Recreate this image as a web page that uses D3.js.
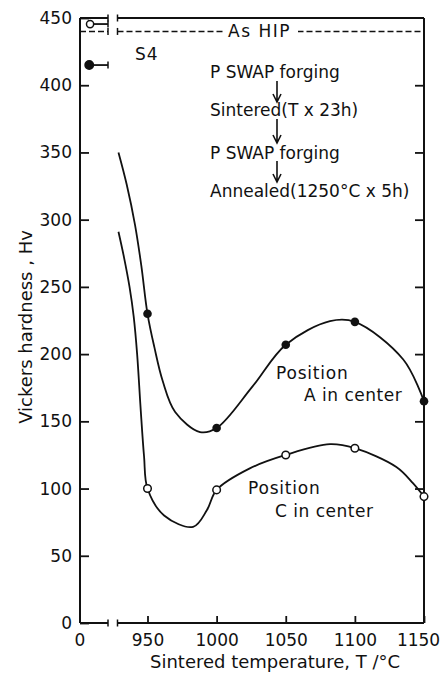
<!DOCTYPE html>
<html>
<head>
<meta charset="utf-8">
<script src="https://cdn.jsdelivr.net/npm/d3@7"></script>
<style>
  html, body { margin: 0; padding: 0; background: #fff; }
  svg { display: block; }
  text { font-family: "DejaVu Sans", sans-serif; fill: #111; }
</style>
</head>
<body>
<div id="chart"></div>
<script>
// Temperatures and hardness values
const tempTicks = [950, 1000, 1050, 1100, 1150];
const hvTicks = [0, 50, 100, 150, 200, 250, 300, 350, 400, 450];
const temps = [950, 1000, 1050, 1100, 1150];
const hvA = [230, 145, 207, 224, 165];   // Position A in center (filled)
const hvC = [100, 99, 125, 130, 94];     // Position C in center (open)

// Hand drawn guide curves through the points
const curveATemp = [929, 935, 941, 945.5, 950, 955, 961, 970, 988, 1000, 1026, 1050, 1082, 1100, 1135, 1150];
const curveAHv = [350, 326, 296, 266, 230, 205, 180, 157, 142, 145, 176, 207, 224.5, 224, 196, 165];
const curveCTemp = [929, 933, 937, 940, 942.5, 945, 947.5, 950, 962, 983, 993, 1000, 1024, 1050, 1082, 1100, 1130, 1142, 1150];
const curveCHv = [291, 272, 250, 228, 200, 160, 124, 100, 80, 71.5, 84, 99, 115, 125, 133, 130, 116, 104, 94];

// S4 reference points on the short left segment (as HIP)
const hipLevel = 440;
const s4Open = 445.5;
const s4Filled = 415;

const width = 442, height = 673;
const svg = d3.select('#chart').append('svg')
  .attr('width', width)
  .attr('height', height);

const y = d3.scaleLinear().domain([0, 450]).range([623, 18]);
const x = d3.scaleLinear().domain([950, 1150]).range([147.5, 424]);
// left stub of the broken axis (0 ... break)
const xL = d3.scaleLinear().domain([0, 1]).range([80, 108]);
const breakRight = 117.5;

const ink = '#111';

// ---- axes ----
const gx = svg.append('g')
  .attr('transform', `translate(0,${y(0)})`)
  .call(d3.axisBottom(x).tickValues(tempTicks).tickSize(-7).tickPadding(11).tickFormat(d3.format('d')));
const gy = svg.append('g')
  .attr('transform', `translate(${xL(0)},0)`)
  .call(d3.axisLeft(y).tickValues(hvTicks).tickSize(-9).tickPadding(8));
const gr = svg.append('g')
  .attr('transform', `translate(${x(1150)},0)`)
  .call(d3.axisRight(y).tickValues(hvTicks.slice(1, -1)).tickSize(-9).tickFormat(''));

[gx, gy, gr].forEach(g => {
  g.select('.domain').remove();
  g.selectAll('line').attr('stroke', ink).attr('stroke-width', 1.8);
  g.selectAll('text').style('font-size', '17px').style('font-family', '"DejaVu Sans", sans-serif').attr('fill', ink);
});
// keep the last label inside the picture
gx.selectAll('.tick').filter(d => d === 1150).select('text').attr('dx', -6);

// "0" under the left stub
svg.append('text')
  .attr('x', xL(0)).attr('y', 646)
  .attr('text-anchor', 'middle')
  .style('font-size', '17px')
  .text('0');

// ---- frame with axis break ----
const frame = svg.append('g')
  .attr('stroke', ink)
  .attr('stroke-width', 2)
  .attr('fill', 'none');

frame.append('line').attr('x1', xL(0)).attr('x2', xL(0)).attr('y1', y(450)).attr('y2', y(0));
frame.append('line').attr('x1', x(1150)).attr('x2', x(1150)).attr('y1', y(450)).attr('y2', y(0));

function brokenLine(val, dash) {
  const yy = y(val);
  const g = frame.append('g');
  if (dash) g.attr('stroke-dasharray', '6,3').attr('stroke-width', 1.5);
  g.append('line').attr('x1', xL(0)).attr('x2', xL(1)).attr('y1', yy).attr('y2', yy);
  g.append('line').attr('x1', breakRight).attr('x2', x(1150)).attr('y1', yy).attr('y2', yy);
  // break ticks
  frame.append('line').attr('stroke-width', 1.5)
    .attr('x1', xL(1)).attr('x2', xL(1)).attr('y1', yy - 3.5).attr('y2', yy + 3.5);
  frame.append('line').attr('stroke-width', 1.5)
    .attr('x1', breakRight).attr('x2', breakRight).attr('y1', yy - 3.5).attr('y2', yy + 3.5);
  return g;
}
brokenLine(0, false);
brokenLine(450, false);
brokenLine(hipLevel, true);

// white box behind "As HIP"
svg.append('rect')
  .attr('x', 224).attr('y', y(hipLevel) - 8)
  .attr('width', 74).attr('height', 16)
  .attr('fill', '#fff');
svg.append('text')
  .attr('x', 228).attr('y', y(hipLevel) + 6)
  .style('font-size', '17px')
  .style('letter-spacing', '1.5px')
  .text('As HIP');

// ---- S4 points with bars to the break ----
[[s4Open, 0.36, false], [s4Filled, 0.33, true]].forEach(([v, p, filled]) => {
  svg.append('line')
    .attr('x1', xL(p)).attr('x2', xL(1))
    .attr('y1', y(v)).attr('y2', y(v))
    .attr('stroke', ink).attr('stroke-width', 1.8);
  svg.append('line')
    .attr('x1', xL(1)).attr('x2', xL(1))
    .attr('y1', y(v) - 3.5).attr('y2', y(v) + 3.5)
    .attr('stroke', ink).attr('stroke-width', 1.5);
  svg.append('circle')
    .attr('cx', xL(p)).attr('cy', y(v))
    .attr('r', filled ? 4.2 : 3.6)
    .attr('fill', filled ? ink : '#fff')
    .attr('stroke', ink).attr('stroke-width', 1.5);
});

// ---- curves ----
const line = d3.line()
  .x(d => x(d[0]))
  .y(d => y(d[1]))
  .curve(d3.curveCatmullRom.alpha(0.5));

svg.append('path')
  .datum(d3.zip(curveATemp, curveAHv))
  .attr('d', line)
  .attr('fill', 'none').attr('stroke', ink).attr('stroke-width', 1.8);
svg.append('path')
  .datum(d3.zip(curveCTemp, curveCHv))
  .attr('d', line)
  .attr('fill', 'none').attr('stroke', ink).attr('stroke-width', 1.8);

// data points
svg.selectAll('.pt-a')
  .data(d3.zip(temps, hvA))
  .enter().append('circle')
  .attr('class', 'pt-a')
  .attr('cx', d => x(d[0])).attr('cy', d => y(d[1]))
  .attr('r', 4.3).attr('fill', ink);
svg.selectAll('.pt-c')
  .data(d3.zip(temps, hvC))
  .enter().append('circle')
  .attr('class', 'pt-c')
  .attr('cx', d => x(d[0])).attr('cy', d => y(d[1]))
  .attr('r', 3.8).attr('fill', '#fff')
  .attr('stroke', ink).attr('stroke-width', 1.5);

// ---- annotations ----
function label(txt, lx, ly, ls) {
  svg.append('text')
    .attr('x', lx).attr('y', ly)
    .style('font-size', '17px')
    .style('letter-spacing', (ls || 0) + 'px')
    .text(txt);
}
label('S4', 135, 60, 1);
label('P SWAP forging', 210, 78);
label('Sintered(T x 23h)', 210, 116);
label('P SWAP forging', 210, 158.5);
label('Annealed(1250°C x 5h)', 210, 196.5);
label('Position', 276, 379, 0.8);
label('A in center', 304, 401, 0.5);
label('Position', 248, 494, 0.8);
label('C in center', 275, 517, 0.5);

// process arrows
const arrowX = 277;
[[81, 102], [119, 143], [161, 182]].forEach(([y0, y1]) => {
  svg.append('path')
    .attr('d', `M${arrowX},${y0}V${y1}M${arrowX - 4},${y1 - 8}L${arrowX},${y1}L${arrowX + 4},${y1 - 8}`)
    .attr('fill', 'none').attr('stroke', ink).attr('stroke-width', 1.6);
});

// ---- axis titles ----
svg.append('text')
  .attr('transform', 'translate(32,327) rotate(-90)')
  .attr('text-anchor', 'middle')
  .style('font-size', '18px')
  .text('Vickers hardness , Hv');
svg.append('text')
  .attr('x', 150).attr('y', 668)
  .style('font-size', '18px')
  .text('Sintered temperature, T /°C');
</script>
</body>
</html>
